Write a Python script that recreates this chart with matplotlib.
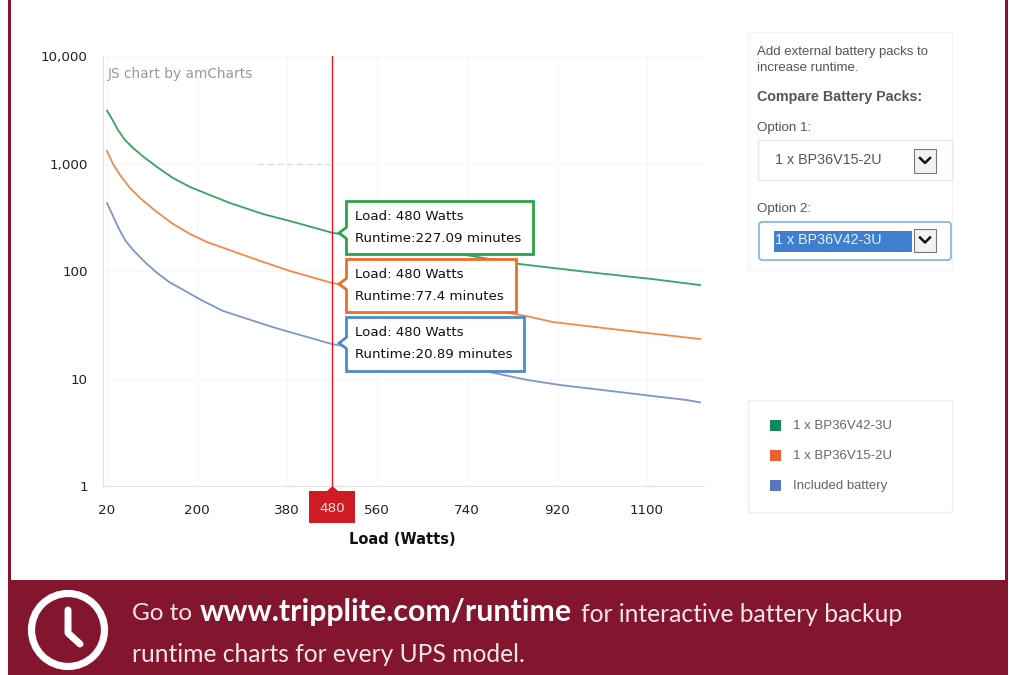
import matplotlib
matplotlib.use('Agg')
import matplotlib.pyplot as plt
from matplotlib.patches import Rectangle, Circle, Polygon, FancyBboxPatch

# chart values
green_x = [20, 30, 42, 56, 72, 96, 120, 152, 186, 226, 266, 332, 400, 470, 846, 980, 1112, 1206]
green_y = [3100, 2594, 2050, 1654, 1395, 1125, 928, 733, 605, 509, 429, 339, 280, 227.09, 116, 98, 84, 74]
orange_x = [20, 32, 46, 66, 86, 116, 152, 186, 220, 320, 386, 470, 860, 912, 1046, 1206]
orange_y = [1307, 989, 782, 592, 478, 365, 274, 221, 186, 127, 100, 77.4, 38, 33.5, 28.3, 23.3]
blue_x = [20, 32, 42, 56, 72, 96, 120, 146, 172, 212, 252, 352, 470, 766, 860, 926, 1012, 1180, 1206]
blue_y = [429, 325, 257, 194, 157, 121, 96, 78, 67, 52.6, 42.5, 30, 20.89, 12, 9.7, 8.7, 7.8, 6.3, 6.0]

x_ticks = [20, 200, 380, 560, 740, 920, 1100]
y_ticks = [1, 10, 100, 1000, 10000]
y_labels = ['1', '10', '100', '1,000', '10,000']
cursor_x = 470

tip_lines = ['Runtime:227.09 minutes', 'Runtime:77.4 minutes', 'Runtime:20.89 minutes']
legend_names = ['1 x BP36V42-3U', '1 x BP36V15-2U', 'Included battery']

maroon = '#83152f'
W, H = 1009, 675

fig = plt.figure(figsize=(W / 100, H / 100), dpi=100, facecolor='white')

# main chart, axes box given in pixels
ax = fig.add_axes([103 / W, 1 - 486 / H, 601 / W, 430 / H])
ax.set_yscale('log')
ax.set_xlim(12, 1214)
ax.set_ylim(1, 10000)
ax.plot(green_x, green_y, color='#37a463', lw=1.3)
ax.plot(orange_x, orange_y, color='#f08a4b', lw=1.3)
ax.plot(blue_x, blue_y, color='#7f96c8', lw=1.3)
ax.axvline(cursor_x, color='#e8141c', lw=1)
ax.set_xticks(x_ticks)
ax.set_yticks(y_ticks)
ax.set_yticklabels(y_labels)
ax.minorticks_off()
ax.tick_params(length=0, labelsize=9.7, colors='#222222', pad=13)
ax.tick_params(axis='y', pad=11)
ax.grid(color='#f8f8f8', lw=1)
ax.set_axisbelow(True)
for s in ['top', 'right']:
    ax.spines[s].set_visible(False)
for s in ['left', 'bottom']:
    ax.spines[s].set_color('#e2e2e2')

# everything else is page furniture, drawn in pixel coordinates
pg = fig.add_axes([0, 0, 1, 1], zorder=5)
pg.set_xlim(0, W)
pg.set_ylim(H, 0)
pg.axis('off')
pg.patch.set_alpha(0)

pg.add_patch(Rectangle((8, 0), 3, 580, color=maroon, lw=0))
pg.add_patch(Rectangle((1005, 0), 3, 580, color=maroon, lw=0))
pg.add_patch(Rectangle((8, 580), 1000, 95, color=maroon, lw=0))

pg.text(108, 74, 'JS chart by amCharts', color='#999999', fontsize=9.9, va='center')
pg.plot([258, 332], [163.5, 163.5], color='#dddddd', lw=1, ls=(0, (4, 3)))

# cursor label on the x axis
pg.add_patch(Rectangle((309, 491), 46, 32, color='#cf1c24', lw=0))
pg.add_patch(Polygon([[327, 491], [332.5, 486], [338, 491]], color='#cf1c24', lw=0))
pg.text(332, 508, '480', color='#fbe6e6', fontsize=9.7, ha='center', va='center')
pg.text(402, 540, 'Load (Watts)', color='#111111', fontsize=10.5, weight='bold',
        ha='center', va='center')

# tooltips
boxes = [(346, 201, 187, 53, 233, '#2ba24c'),
         (346, 259, 170, 53, 284, '#ef6c2b'),
         (346, 317, 178, 54, 343, '#4f8ac9')]
for b, line in zip(boxes, tip_lines):
    x0, y0, w, h, tip, col = b
    pg.add_patch(Rectangle((x0, y0), w, h, fc='white', ec=col, lw=2))
    pg.add_patch(Polygon([[x0 + 1, tip - 6], [x0 - 7, tip], [x0 + 1, tip + 6]],
                         fc='white', ec=col, lw=2, closed=False))
    pg.add_patch(Rectangle((x0 + 0.5, tip - 5), 2, 10, fc='white', lw=0))
    pg.text(355, y0 + 15, 'Load: 480 Watts', color='#111111', fontsize=9.65, va='center')
    pg.text(355, y0 + 37, line, color='#111111', fontsize=9.65, va='center')

# battery selector panel
sans = 'Liberation Sans'
pg.add_patch(Rectangle((748, 32), 204, 238, fc='white', ec='#f3f3f3', lw=1))
pg.text(757, 52, 'Add external battery packs to', family=sans, fontsize=9.5, color='#555555', va='center')
pg.text(757, 68, 'increase runtime.', family=sans, fontsize=9.5, color='#555555', va='center')
pg.text(757, 97, 'Compare Battery Packs:', family=sans, fontsize=10.3, weight='bold', color='#555555', va='center')
pg.text(757, 128, 'Option 1:', family=sans, fontsize=9.6, color='#555555', va='center')
pg.text(757, 209, 'Option 2:', family=sans, fontsize=9.6, color='#555555', va='center')

pg.add_patch(Rectangle((758, 140), 194, 40, fc='white', ec='#e8e8e8', lw=1))
pg.text(775, 160, '1 x BP36V15-2U', family=sans, fontsize=10.3, color='#555555', va='center')
pg.add_patch(FancyBboxPatch((759, 222), 192, 38, boxstyle='round,pad=0,rounding_size=3',
                            fc='white', ec='#7fb2e5', lw=1.2))
pg.add_patch(Rectangle((774, 231), 138, 21, color='#3f7fd0', lw=0))
pg.text(775, 240, '1 x BP36V42-3U', family=sans, fontsize=10.3, color='#e8f0fa', va='center')
for by, bh in [(149, 24), (229, 23)]:
    pg.add_patch(Rectangle((914, by), 22, bh, fc='#f2f2f2', ec='#777777', lw=0.8))
    cy = by + bh / 2
    pg.plot([920, 925, 930], [cy - 3, cy + 2, cy - 3], color='#111111', lw=1.8)

# legend panel
pg.add_patch(Rectangle((748, 400), 204, 112, fc='white', ec='#eeeeee', lw=1))
for y, c, name in zip([426, 456, 486], ['#0f8a5a', '#e8622f', '#5b74c4'], legend_names):
    pg.add_patch(Rectangle((770, y - 6), 11, 11, color=c, lw=0))
    pg.text(793, y, name, family=sans, fontsize=9.5, color='#666666', va='center')

# banner
pg.add_patch(Circle((68, 630), 36.5, fc='none', ec='white', lw=5.2))
pg.plot([68, 68, 80], [610, 633, 644], color='white', lw=5, solid_capstyle='round',
        solid_joinstyle='round')
bf = 'Lato'
pg.text(132, 614, 'Go to', family=bf, fontsize=17.5, color='#f3e6ea', va='center')
pg.text(200, 612, 'www.tripplite.com/runtime', family=bf, fontsize=21.8, weight='bold',
        color='white', va='center')
pg.text(581, 614, 'for interactive battery backup', family=bf, fontsize=17.7, color='#f3e6ea', va='center')
pg.text(132, 654, 'runtime charts for every UPS model.', family=bf, fontsize=17.7, color='#f3e6ea', va='center')

fig.savefig('out.png', dpi=100)
